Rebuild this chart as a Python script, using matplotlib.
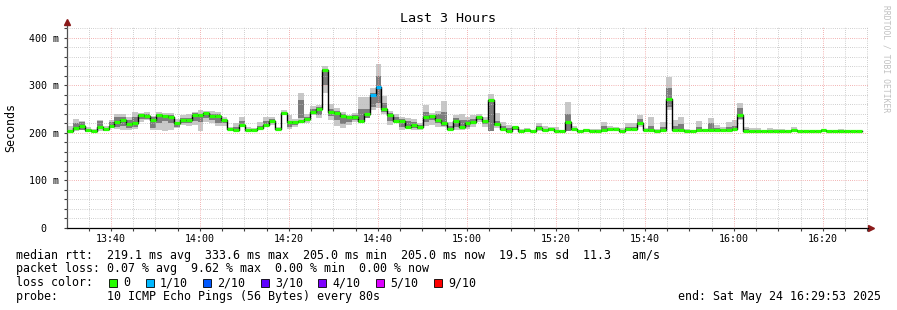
import numpy as np
import matplotlib
matplotlib.use("Agg")
import matplotlib.pyplot as plt
from matplotlib.patches import Rectangle

# ---- data (ms), one value per 80 s step, starting 13:30:10 ----
median = [204, 210, 215, 206, 204, 212, 208, 215, 222, 227,
          219, 221, 238, 236, 228, 238, 235, 233, 221, 227,
          227, 237, 237, 241, 236, 235, 228, 208, 207, 216,
          206, 207, 210, 217, 225, 208, 241, 222, 223, 225,
          230, 245, 250, 333, 245, 243, 236, 233, 233, 225,
          240, 280, 297, 250, 238, 225, 225, 213, 216, 212,
          233, 236, 228, 221, 209, 225, 212, 220, 222, 234,
          225, 269, 218, 209, 205, 212, 204, 206, 204, 211,
          207, 209, 204, 204, 222, 208, 204, 207, 205, 205,
          207, 208, 208, 205, 208, 208, 220, 206, 206, 205,
          207, 271, 207, 207, 204, 204, 206, 206, 206, 206,
          206, 207, 208, 238, 205, 204, 204, 204, 204, 204,
          204, 204, 207, 204, 204, 204, 204, 206, 204, 204,
          204, 204, 204, 204]

smoke_hi = [214, 229, 226, 212, 208, 227, 214, 228, 239, 239,
            233, 245, 243, 245, 236, 245, 241, 243, 229, 238,
            239, 245, 248, 246, 246, 245, 234, 213, 221, 234,
            213, 211, 222, 234, 234, 213, 248, 238, 229, 283,
            239, 257, 259, 341, 261, 252, 245, 238, 243, 276,
            276, 294, 345, 278, 246, 239, 234, 231, 229, 221,
            259, 243, 246, 267, 224, 238, 239, 234, 238, 239,
            233, 281, 241, 224, 217, 215, 208, 210, 206, 221,
            214, 213, 213, 206, 266, 214, 206, 208, 208, 208,
            224, 214, 213, 210, 221, 221, 238, 210, 234, 208,
            224, 317, 227, 234, 208, 206, 226, 208, 232, 217,
            213, 224, 227, 263, 213, 210, 210, 204, 210, 208,
            208, 204, 213, 204, 204, 204, 204, 208, 204, 204,
            208, 204, 204, 204]

smoke_lo = [202, 204, 206, 202, 203, 204, 204, 211, 208, 206,
            206, 208, 224, 227, 206, 206, 205, 206, 210, 217,
            215, 217, 204, 224, 221, 215, 215, 206, 208, 213,
            204, 206, 210, 213, 217, 206, 238, 208, 213, 224,
            221, 238, 231, 285, 227, 215, 210, 217, 224, 221,
            231, 248, 252, 240, 217, 224, 206, 210, 206, 206,
            215, 217, 213, 213, 206, 206, 206, 208, 213, 224,
            213, 204, 211, 208, 204, 206, 204, 204, 204, 204,
            204, 204, 204, 204, 204, 206, 204, 204, 204, 204,
            204, 206, 206, 203, 206, 206, 213, 204, 204, 204,
            204, 248, 204, 204, 204, 204, 204, 204, 204, 204,
            204, 204, 204, 227, 204, 204, 204, 204, 204, 204,
            204, 204, 204, 204, 204, 204, 204, 204, 204, 204,
            204, 204, 204, 204]

inner_hi = [206, 221, 222, 208, 206, 225, 210, 222, 233, 234,
            228, 233, 240, 240, 233, 240, 238, 238, 224, 232,
            232, 242, 240, 243, 240, 240, 230, 210, 212, 225,
            208, 209, 214, 226, 230, 210, 244, 226, 226, 270,
            234, 250, 254, 335, 250, 246, 240, 236, 238, 250,
            250, 285, 320, 262, 242, 234, 230, 225, 222, 216,
            245, 238, 240, 245, 215, 232, 228, 228, 230, 236,
            228, 265, 226, 214, 210, 212, 205, 207, 205, 214,
            209, 210, 206, 205, 240, 210, 205, 207, 206, 206,
            214, 210, 210, 206, 212, 212, 230, 207, 215, 206,
            212, 295, 214, 218, 205, 205, 212, 207, 220, 210,
            208, 212, 215, 252, 208, 204, 204, 204, 204, 204,
            204, 204, 204, 204, 204, 204, 204, 204, 204, 204,
            204, 204, 204, 204]

inner_lo = [203, 206, 206, 203, 203, 208, 205, 212, 212, 214,
            210, 212, 230, 230, 210, 220, 225, 220, 212, 220,
            220, 225, 222, 232, 228, 220, 220, 207, 206, 214,
            205, 206, 210, 215, 220, 207, 240, 212, 216, 232,
            225, 242, 238, 300, 235, 228, 218, 222, 228, 226,
            232, 255, 262, 245, 225, 228, 212, 212, 210, 208,
            222, 228, 220, 215, 207, 212, 210, 212, 218, 228,
            218, 205, 214, 208, 205, 206, 204, 204, 204, 206,
            205, 206, 204, 204, 204, 206, 204, 204, 204, 204,
            205, 206, 206, 203, 206, 206, 216, 205, 205, 204,
            205, 255, 205, 205, 204, 204, 204, 205, 205, 205,
            205, 205, 206, 230, 204, 204, 204, 204, 204, 204,
            204, 204, 204, 204, 204, 204, 204, 204, 204, 204,
            204, 204, 204, 204]

# lost pings out of 10 per step
loss = [0] * 134
loss[51] = 1
loss[52] = 1

loss_labels = ["0", "1/10", "2/10", "3/10", "4/10", "5/10", "9/10"]
loss_colors = ["#26ff00", "#00b8ff", "#0059ff", "#5e00ff", "#7e00ff", "#dd00ff", "#ff0000"]
loss_levels = [0, 1, 2, 3, 4, 5, 9]

x_ticks = [40, 60, 80, 100, 120, 140, 160, 180, 200]  # minutes after 13:00
x_labels = ["13:40", "14:00", "14:20", "14:40", "15:00", "15:20", "15:40", "16:00", "16:20"]
y_ticks = [0, 100, 200, 300, 400]
y_labels = ["0  ", "100 m", "200 m", "300 m", "400 m"]

stats_rtt = "median rtt:  219.1 ms avg  333.6 ms max  205.0 ms min  205.0 ms now  19.5 ms sd  11.3   am/s"
stats_loss = "packet loss: 0.07 % avg  9.62 % max  0.00 % min  0.00 % now"
probe_txt = "probe:       10 ICMP Echo Pings (56 Bytes) every 80s"
end_txt = "end: Sat May 24 16:29:53 2025"

# ---- plot ----
W, H = 897, 310
MONO = "DejaVu Sans Mono"
plt.rcParams["font.family"] = MONO

fig = plt.figure(figsize=(W / 100, H / 100), dpi=100)
fig.patch.set_facecolor("white")
ax = fig.add_axes([67 / W, 1 - 228 / H, 801 / W, 202 / H])

t_start = 30 + 10 / 60
step = 80 / 60
n = len(median)
edges = t_start + np.arange(n + 1) * step

def ext(v):
    return np.append(np.asarray(v, float), v[-1])

ax.fill_between(edges, ext(smoke_lo), ext(smoke_hi), step="post",
                facecolor="#c8c8c8", edgecolor="none", lw=0, zorder=1)
ax.fill_between(edges, ext(inner_lo), ext(inner_hi), step="post",
                facecolor="#7c7c7c", edgecolor="none", lw=0, zorder=1.2)
ax.step(edges, ext(median), where="post", color="black", lw=1.0, zorder=3)
cmap = dict(zip(loss_levels, loss_colors))
ax.hlines(median, edges[:-1], edges[1:], colors=[cmap[l] for l in loss],
          lw=2.3, zorder=4, capstyle="butt")

ax.set_xlim(t_start, t_start + 180)
ax.set_ylim(0, 425)

ax.set_xticks(x_ticks)
ax.set_xticklabels(x_labels)
ax.set_xticks(np.arange(35, 211, 5), minor=True)
ax.set_yticks(y_ticks)
ax.set_yticklabels(y_labels)
ax.set_yticks(np.arange(20, 425, 20), minor=True)
ax.tick_params(axis="both", which="both", length=2.5, width=0.8, labelsize=7.2,
               color="#404040")
ax.tick_params(axis="x", pad=2)
ax.tick_params(axis="y", pad=3)

dots = (0, (0.7, 1.45))
ax.grid(True, which="minor", color="#c0c0c0", lw=0.72, linestyle=dots)
ax.grid(True, which="major", color="#ee9999", lw=0.72, linestyle=dots)
ax.set_axisbelow(False)

for s in ["top", "right"]:
    ax.spines[s].set_visible(False)
ax.spines["left"].set_color("#505050")
ax.spines["bottom"].set_color("black")
ax.spines["left"].set_linewidth(0.9)
ax.spines["bottom"].set_linewidth(0.9)

# axis arrows
ax.plot([0], [1.02], marker="^", ms=4, color="#8b1a1a", transform=ax.transAxes, clip_on=False)
ax.plot([1.004], [0], marker=">", ms=4, color="#8b1a1a", transform=ax.transAxes, clip_on=False)

ax.set_ylabel("Seconds", fontsize=8.4)
ax.yaxis.set_label_coords(-50 / 801, 0.5)

fig.text(448 / W, 1 - 19 / H, "Last 3 Hours", ha="center", va="center", fontsize=9.6)
fig.text(886 / W, 1 - 5 / H, "RRDTOOL / TOBI OETIKER", rotation=270, ha="center", va="top",
         fontsize=5.8, color="#c0c0c0")

fig.text(16 / W, 1 - 255 / H, stats_rtt, ha="left", va="center", fontsize=8.4)
fig.text(16 / W, 1 - 268.5 / H, stats_loss, ha="left", va="center", fontsize=8.4)
fig.text(16 / W, 1 - 282.5 / H, "loss color:", ha="left", va="center", fontsize=8.4)
fig.text(16 / W, 1 - 296.5 / H, probe_txt, ha="left", va="center", fontsize=8.4)
fig.text(881 / W, 1 - 296.5 / H, end_txt, ha="right", va="center", fontsize=8.4)

sq_x = [109, 146, 203, 261, 318, 376, 434]
for xp, lab, col in zip(sq_x, loss_labels, loss_colors):
    fig.add_artist(Rectangle((xp / W, 1 - 286.5 / H), 8 / W, 8 / H, transform=fig.transFigure,
                             facecolor=col, edgecolor="black", lw=0.6))
    fig.text((xp + 14) / W, 1 - 282.5 / H, lab, ha="left", va="center", fontsize=8.4)

fig.savefig("out.png", dpi=100, facecolor="white")
